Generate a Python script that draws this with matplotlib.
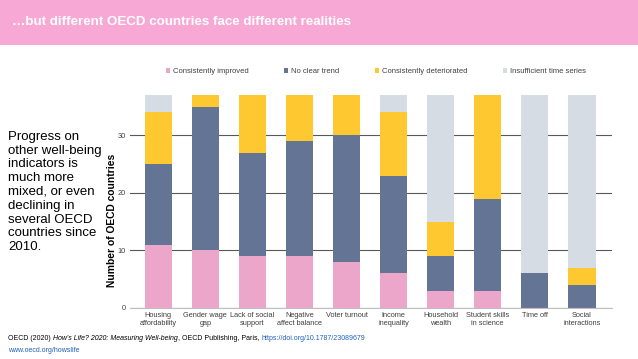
import matplotlib.pyplot as plt
import numpy as np

categories = ['Housing\naffordability', 'Gender wage\ngap', 'Lack of social\nsupport',
              'Negative\naffect balance', 'Voter turnout', 'Income\ninequality',
              'Household\nwealth', 'Student skills\nin science', 'Time off', 'Social\ninteractions']
improved = [11, 10, 9, 9, 8, 6, 3, 3, 0, 0]
no_trend = [14, 25, 18, 20, 22, 17, 6, 16, 6, 4]
deteriorated = [9, 2, 10, 8, 7, 11, 6, 18, 0, 3]
insufficient = [3, 0, 0, 0, 0, 3, 22, 0, 31, 30]

series = [('Consistently improved', improved, '#EBA6C9'),
          ('No clear trend', no_trend, '#647494'),
          ('Consistently deteriorated', deteriorated, '#FDC830'),
          ('Insufficient time series', insufficient, '#D5DCE4')]

plt.rcParams['font.family'] = ['Liberation Sans', 'DejaVu Sans']

fig = plt.figure(figsize=(6.38, 3.59), dpi=100)

# pink title band
band = fig.add_axes([0, 1 - 45 / 359, 1, 45 / 359])
band.set_facecolor('#F8A8D5')
band.set_xticks([])
band.set_yticks([])
for s in band.spines.values():
    s.set_visible(False)
fig.text(12 / 638, 1 - 22 / 359, '\u2026but different OECD countries face different realities',
         color='white', fontsize=9.6, fontweight='bold', va='center', ha='left')

ax = fig.add_axes([130 / 638, 51 / 359, 482 / 638, 213 / 359])
x = np.arange(len(categories))
bottom = np.zeros(len(categories))
for name, vals, col in series:
    ax.bar(x, vals, 0.58, bottom=bottom, color=col, label=name, zorder=2)
    bottom += np.array(vals)

ax.set_ylim(0, 37)
ax.set_xlim(-0.6, 9.64)
ax.set_yticks([0, 10, 20, 30])
ax.yaxis.grid(True, color='#595959', linewidth=0.8, zorder=1)
ax.set_xticks(x)
ax.set_xticklabels(categories, fontsize=5.3, color='#404040', linespacing=1.1)
ax.tick_params(axis='y', labelsize=5.3, colors='#404040', length=0, pad=3)
ax.tick_params(axis='x', length=0, pad=3)
for k in ['top', 'right', 'left']:
    ax.spines[k].set_visible(False)
ax.spines['bottom'].set_color('#BFBFBF')
ax.set_ylabel('Number of OECD countries', fontsize=7.4, fontweight='bold')
ax.yaxis.set_label_coords(-0.028, 0.41)

ax.legend(loc='center', bbox_to_anchor=(0.51, 1.11), ncol=4, frameon=False,
          fontsize=5.5, handlelength=0.55, handleheight=0.55, columnspacing=4.6,
          handletextpad=0.4, labelcolor='#404040')

fig.text(8 / 638, 1 - 192 / 359,
         'Progress on\nother well-being\nindicators is\nmuch more\nmixed, or even\ndeclining in\nseveral OECD\ncountries since\n2010.',
         fontsize=9.5, va='center', ha='left', linespacing=1.2)

# citation line, built from pieces
fig.canvas.draw()
renderer = fig.canvas.get_renderer()
pieces = [('OECD (2020) ', 'normal', 'black'),
          ("How's Life? 2020: Measuring Well-being", 'italic', 'black'),
          (', OECD Publishing, Paris, ', 'normal', 'black'),
          ('https://doi.org/10.1787/23089679', 'normal', '#1F5FBF')]
xpos = 8
for txt, style, col in pieces:
    t = fig.text(xpos / 638, 1 - 338 / 359, txt, fontsize=5.0, style=style, color=col,
                 va='center', ha='left')
    xpos += t.get_window_extent(renderer).width
fig.text(8 / 638, 1 - 350 / 359, 'www.oecd.org/howslife',
         fontsize=5.0, va='center', ha='left', color='#1F5FBF')

fig.savefig('out.png', dpi=100)
